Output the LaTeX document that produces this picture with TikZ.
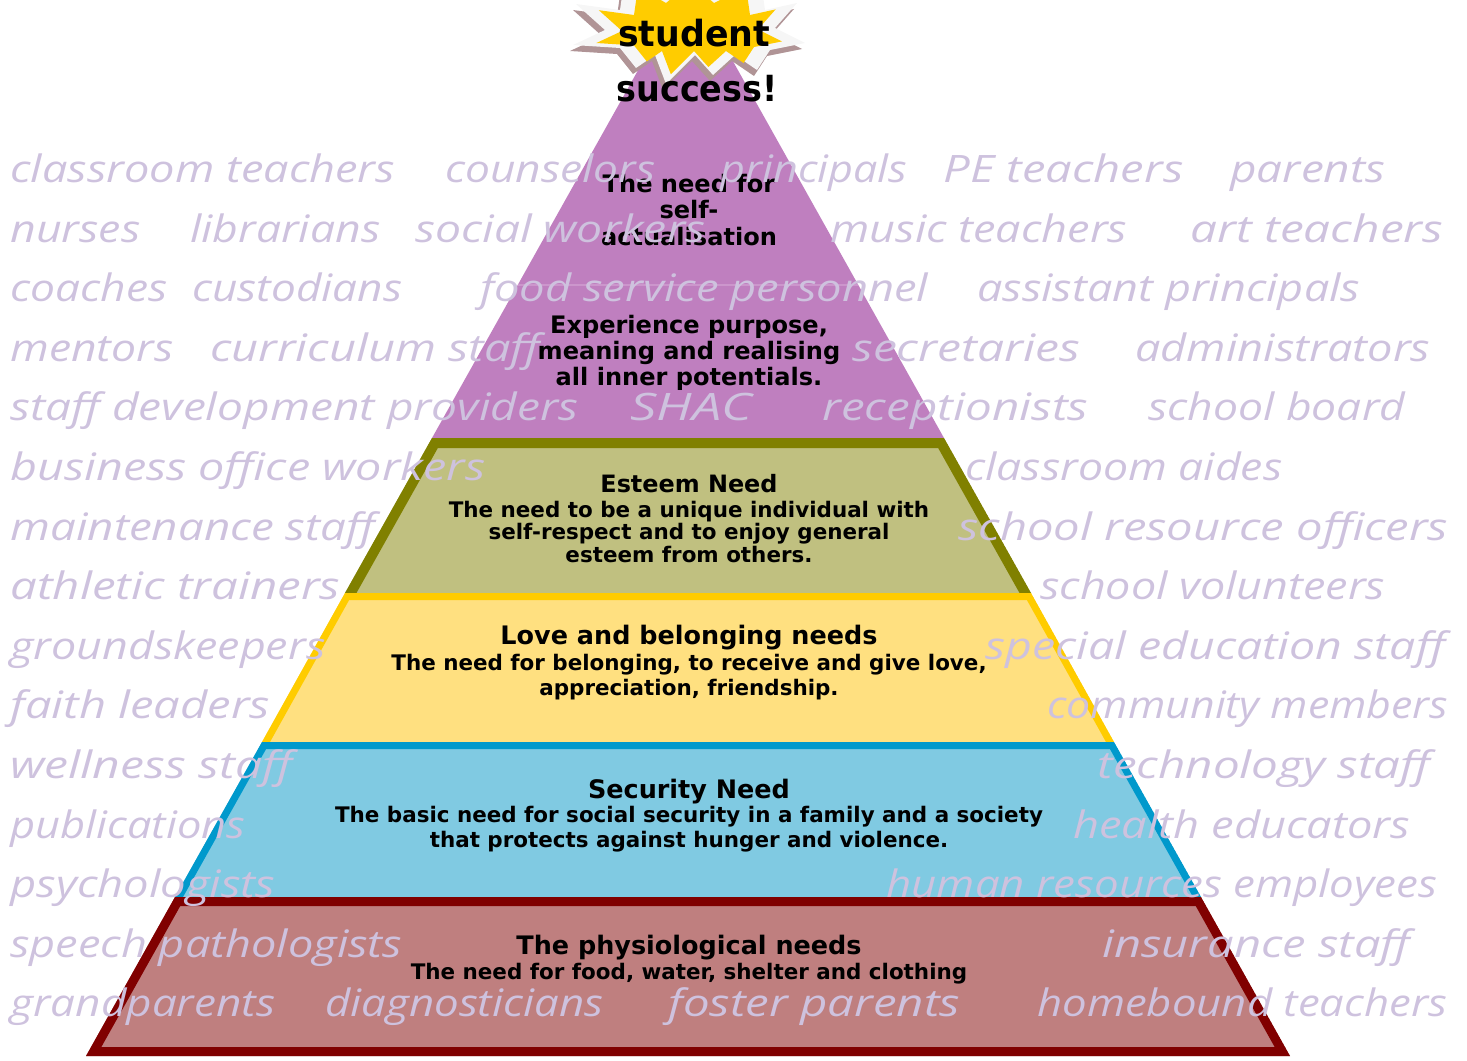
\documentclass[tikz,border=0pt]{standalone}
\usepackage{fontspec}
\usepackage{graphicx}
\usepackage{tikz}
\usetikzlibrary{positioning}
\newfontfamily\needfont{DejaVu Sans}
\newfontfamily\crowdfont{Open Sans}
\definecolor{selffill}{RGB}{191,127,191}
\definecolor{selfline}{RGB}{204,150,204}
\definecolor{esteemfill}{RGB}{192,192,128}
\definecolor{esteemline}{RGB}{128,128,0}
\definecolor{lovefill}{RGB}{255,224,128}
\definecolor{loveline}{RGB}{255,204,0}
\definecolor{safefill}{RGB}{128,202,226}
\definecolor{safeline}{RGB}{0,153,204}
\definecolor{bodyfill}{RGB}{191,127,127}
\definecolor{bodyline}{RGB}{128,0,0}
\definecolor{crowdcol}{RGB}{206,194,222}
\definecolor{burstfill}{RGB}{255,204,0}
\definecolor{burstshade}{RGB}{176,148,150}
\definecolor{burstrim}{RGB}{246,246,246}
\newlength\px
\setlength\px{0.02cm}
\newcommand\fitw[2]{\resizebox{#1\px}{\height}{#2}}
\newcommand\burstpath{(805,43) -- (770,50) -- (757,70) -- (735,55) -- (713,75) -- (695,55) -- (666,84) -- (655,55) -- (636,68) -- (620,48) -- (573,45) -- (605,30) -- (576,4) -- (620,10) -- (625,-25) -- (660,-5) -- (690,-30) -- (720,-5) -- (760,-25) -- (765,10) -- (797,3) -- (775,28) -- cycle}
\tikzstyle{crowd} = [anchor=base west, inner sep=0pt, text=crowdcol, font=\crowdfont\itshape\fontsize{21.5}{24}\selectfont]
\tikzstyle{needhead} = [align=center, inner sep=0pt, font=\needfont\bfseries\fontsize{14.5}{16}\selectfont]
\tikzstyle{needtext} = [align=center, inner sep=0pt, font=\needfont\bfseries\fontsize{12.2}{14.2}\selectfont]
\tikzstyle{shout} = [anchor=base, inner sep=0pt, font=\needfont\bfseries\fontsize{20.5}{22}\selectfont]

\begin{document}
\begin{tikzpicture}[x=0.02cm, y=-0.02cm, line join=miter]
\useasboundingbox (0,0) rectangle (1467,1061);

% Self-actualisation (top)
\fill[selffill] (688,-19) -- (944,438) -- (432,438) -- cycle;
\draw[selfline, line width=2\px] (518,285) -- (858,285);

% Esteem
\begin{scope}
\clip (432,438) -- (944,438) -- (1031,593) -- (345,593) -- cycle;
\fill[esteemfill] (432,438) -- (944,438) -- (1031,593) -- (345,593) -- cycle;
\draw[esteemline, line width=20\px, line cap=rect] (345,593) -- (432,438) -- (944,438) -- (1031,593);
\end{scope}

% Love and belonging
\begin{scope}
\clip (345,593) -- (1031,593) -- (1114,742) -- (262,742) -- cycle;
\fill[lovefill] (345,593) -- (1031,593) -- (1114,742) -- (262,742) -- cycle;
\draw[loveline, line width=14\px, line cap=rect] (262,742) -- (345,593) -- (1031,593) -- (1114,742);
\end{scope}

% Security
\begin{scope}
\clip (262,742) -- (1114,742) -- (1201,897) -- (175,897) -- cycle;
\fill[safefill] (262,742) -- (1114,742) -- (1201,897) -- (175,897) -- cycle;
\draw[safeline, line width=14\px, line cap=rect] (175,897) -- (262,742) -- (1114,742) -- (1201,897);
\end{scope}

% Physiological (bottom)
\begin{scope}
\clip (175,897) -- (1201,897) -- (1290,1056) -- (86,1056) -- cycle;
\fill[bodyfill] (175,897) -- (1201,897) -- (1290,1056) -- (86,1056) -- cycle;
\draw[bodyline, line width=18\px] (175,897) -- (1201,897) -- (1290,1056) -- (86,1056) -- cycle;
\end{scope}

% Layer texts
\node[needtext, font=\needfont\bfseries\fontsize{13.7}{15.3}\selectfont] (selfhead) at (689,210) {The need for\\self-\\actualisation};
\node[needtext, font=\needfont\bfseries\fontsize{13.7}{15}\selectfont] (selftxt) at (689,353) {Experience purpose,\\meaning and realising\\all inner potentials.};
\node[needhead, font=\needfont\bfseries\fontsize{13.6}{15}\selectfont] (esteemhead) at (689,484) {Esteem Need};
\node[needtext, font=\needfont\bfseries\fontsize{12.2}{13}\selectfont] (esteemtxt) at (689,532) {The need to be a unique individual with\\self-respect and to enjoy general\\esteem from others.};
\node[needhead] (lovehead) at (689,638) {Love and belonging needs};
\node[needtext] (lovetxt) at (689,677) {The need for belonging, to receive and give love,\\appreciation, friendship.};
\node[needhead] (safehead) at (689,792) {Security Need};
\node[needtext] (safetxt) at (689,829) {The basic need for social security in a family and a society\\that protects against hunger and violence.};
\node[needhead] (bodyhead) at (689,948) {The physiological needs};
\node[needtext] (bodytxt) at (689,974) {The need for food, water, shelter and clothing};

% Burst
\fill[burstshade, shift={(-3,6)}] \burstpath;
\fill[burstrim] \burstpath;
\fill[burstfill, shift={(690,35)}, scale=0.8, shift={(-690,-35)}] \burstpath;
\node[shout] (student) at (694,47) {\fitw{152}{student}};
\node[shout] (success) at (697,102) {\fitw{161}{success!}};

% Row 1
\node[crowd] (r1a) at (10,182) {\fitw{385}{classroom teachers}};
\node[crowd] (r1b) at (445,182) {\fitw{210}{counselors}};
\node[crowd] (r1c) at (720,182) {\fitw{187}{principals}};
\node[crowd] (r1d) at (943,182) {\fitw{240}{PE teachers}};
\node[crowd] (r1e) at (1230,182) {\fitw{155}{parents}};
% Row 2
\node[crowd] (r2a) at (10,242) {\fitw{130}{nurses}};
\node[crowd] (r2b) at (190,242) {\fitw{190}{librarians}};
\node[crowd] (r2c) at (415,242) {\fitw{290}{social workers}};
\node[crowd] (r2d) at (830,242) {\fitw{297}{music teachers}};
\node[crowd] (r2e) at (1190,242) {\fitw{253}{art teachers}};
% Row 3
\node[crowd] (r3a) at (10,301) {\fitw{157}{coaches}};
\node[crowd] (r3b) at (192,301) {\fitw{210}{custodians}};
\node[crowd] (r3c) at (480,301) {\fitw{448}{food service personnel}};
\node[crowd] (r3d) at (977,301) {\fitw{383}{assistant principals}};
% Row 4
\node[crowd] (r4a) at (10,361) {\fitw{163}{mentors}};
\node[crowd] (r4b) at (210,361) {\fitw{330}{curriculum staff}};
\node[crowd] (r4c) at (852,361) {\fitw{228}{secretaries}};
\node[crowd] (r4d) at (1135,361) {\fitw{295}{administrators}};
% Row 5
\node[crowd] (r5a) at (10,420) {\fitw{568}{staff development providers}};
\node[crowd] (r5b) at (630,420) {\fitw{122}{SHAC}};
\node[crowd] (r5c) at (822,420) {\fitw{266}{receptionists}};
\node[crowd] (r5d) at (1148,420) {\fitw{257}{school board}};
% Row 6
\node[crowd] (r6a) at (10,480) {\fitw{475}{business office workers}};
\node[crowd] (r6b) at (965,480) {\fitw{317}{classroom aides}};
% Row 7
\node[crowd] (r7a) at (10,540) {\fitw{365}{maintenance staff}};
\node[crowd] (r7b) at (958,540) {\fitw{490}{school resource officers}};
% Row 8
\node[crowd] (r8a) at (10,599) {\fitw{330}{athletic trainers}};
\node[crowd] (r8b) at (1040,599) {\fitw{345}{school volunteers}};
% Row 9
\node[crowd] (r9a) at (10,659) {\fitw{315}{groundskeepers}};
\node[crowd] (r9b) at (985,659) {\fitw{460}{special education staff}};
% Row 10
\node[crowd] (r10a) at (10,718) {\fitw{260}{faith leaders}};
\node[crowd] (r10b) at (1047,718) {\fitw{401}{community members}};
% Row 11
\node[crowd] (r11a) at (10,778) {\fitw{282}{wellness staff}};
\node[crowd] (r11b) at (1097,778) {\fitw{333}{technology staff}};
% Row 12
\node[crowd] (r12a) at (10,838) {\fitw{235}{publications}};
\node[crowd] (r12b) at (1073,838) {\fitw{337}{health educators}};
% Row 13
\node[crowd] (r13a) at (10,897) {\fitw{265}{psychologists}};
\node[crowd] (r13b) at (886,897) {\fitw{551}{human resources employees}};
% Row 14
\node[crowd] (r14a) at (10,957) {\fitw{392}{speech pathologists}};
\node[crowd] (r14b) at (1102,957) {\fitw{308}{insurance staff}};
% Row 15
\node[crowd] (r15a) at (10,1016) {\fitw{265}{grandparents}};
\node[crowd] (r15b) at (325,1016) {\fitw{278}{diagnosticians}};
\node[crowd] (r15c) at (668,1016) {\fitw{292}{foster parents}};
\node[crowd] (r15d) at (1037,1016) {\fitw{410}{homebound teachers}};
\end{tikzpicture}
\end{document}
